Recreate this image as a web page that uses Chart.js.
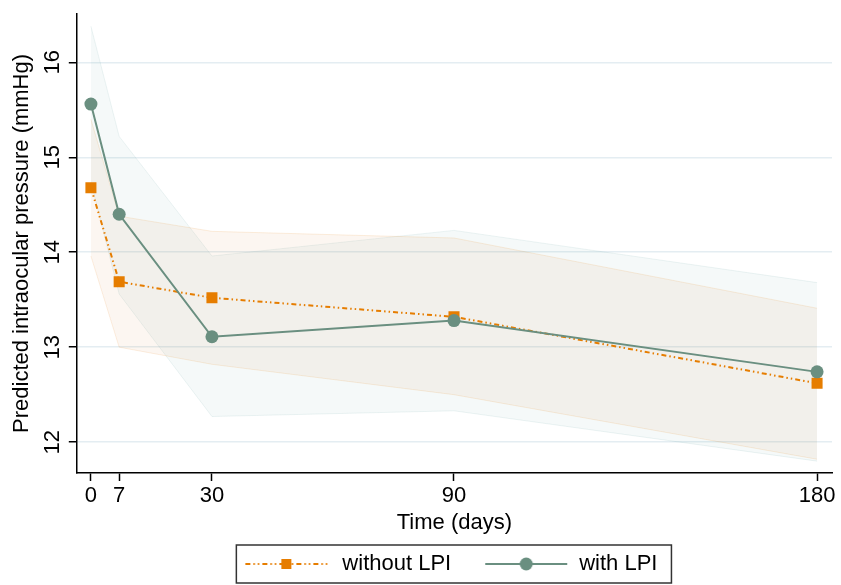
<!DOCTYPE html>
<html>
<head>
<meta charset="utf-8">
<script src="https://cdn.jsdelivr.net/npm/chart.js@4/dist/chart.umd.min.js"></script>
<style>
  html, body { margin: 0; padding: 0; background: #fff; }
  #wrap { width: 841px; height: 585px; }
</style>
</head>
<body>
<div id="wrap"><canvas id="iopChart" width="841" height="585"></canvas></div>
<script>
// time points (days) and tick labels
const DAYS = [0, 7, 30, 90, 180];
const X_TICKS = [0, 7, 30, 90, 180];
const Y_TICKS = [12, 13, 14, 15, 16];

// predicted IOP, without LPI
const noLpi      = [14.68, 13.69, 13.52, 13.32, 12.62];
const noLpiUpper = [15.40, 14.38, 14.22, 14.15, 13.41];
const noLpiLower = [13.96, 13.00, 12.82, 12.50, 11.82];

// predicted IOP, with LPI
const withLpi      = [15.56, 14.40, 13.11, 13.28, 12.74];
const withLpiUpper = [16.38, 15.22, 13.96, 14.23, 13.68];
const withLpiLower = [14.74, 13.56, 12.27, 12.33, 11.80];

const ORANGE = "rgb(230,125,0)";
const GREEN  = "rgb(106,143,128)";
const FONT = "'Liberation Sans', Arial, Helvetica, sans-serif";
const DASH = [5, 3, 1.5, 3, 1.5, 3];

function pts(vals) { return DAYS.map((d, i) => ({ x: d, y: vals[i] })); }

// legend sample: line with the marker in the middle, drawn on a small canvas
function legendSample(color, dash, marker, x0) {
  const c = document.createElement("canvas");
  c.width = 100; c.height = 16;
  const g = c.getContext("2d");
  g.strokeStyle = color; g.lineWidth = 2;
  g.setLineDash(dash);
  g.beginPath(); g.moveTo(x0, 8); g.lineTo(x0 + 82, 8); g.stroke();
  g.setLineDash([]);
  g.fillStyle = color;
  if (marker === "rect") g.fillRect(x0 + 36, 3, 10, 10);
  else { g.beginPath(); g.arc(x0 + 41, 8, 6.5, 0, Math.PI * 2); g.fill(); }
  return c;
}

// nudge the legend so it sits centred like the original, then frame it
const LEGEND_SHIFT = -10;
const legendBox = {
  id: "legendBox",
  afterUpdate(chart) {
    const lg = chart.legend;
    if (!lg) return;
    lg.left += LEGEND_SHIFT; lg.right += LEGEND_SHIFT;
    (lg.legendHitBoxes || []).forEach(b => { b.left += LEGEND_SHIFT; });
  },
  afterDraw(chart) {
    const boxes = chart.legend && chart.legend.legendHitBoxes;
    if (!boxes || !boxes.length) return;
    const l = Math.min(...boxes.map(b => b.left)) + 5;
    const r = Math.max(...boxes.map(b => b.left + b.width)) + 14;
    const t = Math.min(...boxes.map(b => b.top)) - 8;
    const b = Math.max(...boxes.map(b => b.top + b.height)) + 8;
    const ctx = chart.ctx;
    ctx.save();
    ctx.strokeStyle = "#333"; ctx.lineWidth = 1.5;
    ctx.strokeRect(l, t, r - l, b - t);
    ctx.restore();
  }
};

new Chart(document.getElementById("iopChart"), {
  type: "line",
  data: {
    datasets: [
      { label: "without LPI", data: pts(noLpi), borderColor: ORANGE, backgroundColor: ORANGE,
        borderWidth: 2, borderDash: DASH, pointStyle: "rect", pointRadius: 7.8,
        pointBorderWidth: 0, fill: false, order: 1, tension: 0 },
      { label: "with LPI", data: pts(withLpi), borderColor: GREEN, backgroundColor: GREEN,
        borderWidth: 2, pointStyle: "circle", pointRadius: 6.5, pointBorderWidth: 0,
        fill: false, order: 0, tension: 0 },
      { label: "ci1u", data: pts(noLpiUpper), borderColor: "rgba(230,125,0,0.12)", borderWidth: 1,
        pointRadius: 0, fill: "+1", backgroundColor: "rgba(215,125,40,0.065)", order: 2 },
      { label: "ci1l", data: pts(noLpiLower), borderColor: "rgba(230,125,0,0.12)", borderWidth: 1,
        pointRadius: 0, fill: false, order: 2 },
      { label: "ci2u", data: pts(withLpiUpper), borderColor: "rgba(80,150,150,0.10)", borderWidth: 1,
        pointRadius: 0, fill: "+1", backgroundColor: "rgba(80,150,150,0.06)", order: 3 },
      { label: "ci2l", data: pts(withLpiLower), borderColor: "rgba(80,150,150,0.10)", borderWidth: 1,
        pointRadius: 0, fill: false, order: 3 }
    ]
  },
  options: {
    responsive: false,
    animation: false,
    events: [],
    layout: { padding: { top: 12, right: 9, left: 4, bottom: 0 } },
    scales: {
      x: {
        type: "linear", min: -3.5, max: 183.7,
        afterBuildTicks: (s) => { s.ticks = X_TICKS.map(v => ({ value: v })); },
        ticks: { color: "#000", font: { family: FONT, size: 22, lineHeight: 1 }, padding: 4, maxRotation: 0 },
        grid: { drawOnChartArea: false, tickColor: "#000", tickLength: 8, tickWidth: 1.5 },
        border: { color: "#000", width: 1.5 },
        title: { display: true, text: "Time (days)", color: "#000",
                 font: { family: FONT, size: 22, lineHeight: 1 }, padding: { top: 1, bottom: 2 } }
      },
      y: {
        type: "linear", min: 11.675, max: 16.51,
        afterBuildTicks: (s) => { s.ticks = Y_TICKS.map(v => ({ value: v })); },
        ticks: { color: "#000", font: { family: FONT, size: 22, lineHeight: 0.9 }, padding: 4,
                 minRotation: 90, maxRotation: 90, crossAlign: "center" },
        grid: { color: "#e4edf2", lineWidth: 1.5, tickColor: "#000", tickLength: 8, tickWidth: 1.5 },
        border: { color: "#000", width: 1.5 },
        title: { display: true, text: "Predicted intraocular pressure (mmHg)", color: "#000",
                 font: { family: FONT, size: 22, lineHeight: 1 }, padding: { top: 7, bottom: 8 } }
      }
    },
    plugins: {
      tooltip: { enabled: false },
      legend: {
        position: "bottom",
        fullSize: false,
        labels: {
          usePointStyle: true,
          pointStyleWidth: 100,
          padding: 17,
          color: "#000",
          font: { family: FONT, size: 22 },
          generateLabels: (chart) => {
            const samples = [
              legendSample(ORANGE, DASH, "rect", 14),
              legendSample(GREEN, [], "circle", 17)
            ];
            return [0, 1].map(i => ({
              text: chart.data.datasets[i].label,
              datasetIndex: i,
              pointStyle: samples[i],
              fillStyle: "transparent", strokeStyle: "transparent", lineWidth: 0,
              fontColor: "#000", hidden: false
            }));
          }
        }
      }
    }
  },
  plugins: [legendBox]
});
</script>
</body>
</html>
